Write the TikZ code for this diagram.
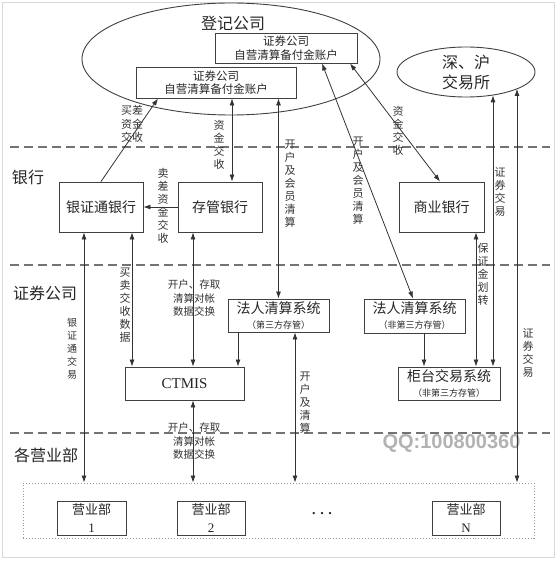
\documentclass[tikz,border=0pt]{standalone}
\usepackage{fontspec}
\setmainfont{Noto Sans CJK SC}
\newfontfamily\serifl{Liberation Serif}
\newfontfamily\qqfont{Liberation Sans}
\usetikzlibrary{arrows.meta,shapes.geometric}
\begin{document}
\begin{tikzpicture}[x=1pt,y=-1pt,
  frame/.style={draw=black!15, line width=0.8pt},
  sep/.style={draw=black!55, line width=1.6pt, dash pattern=on 9pt off 5pt},
  box/.style={draw=black!75, line width=0.9pt, fill=white, text=black!85, align=center, inner sep=0pt},
  oval/.style={ellipse, draw=black!75, line width=0.9pt, inner sep=0pt, text=black!85, align=center},
  big/.style={font=\fontsize{16}{20}\selectfont, text=black!85},
  accf/.style={font=\fontsize{11.5}{13.5}\selectfont},
  bf/.style={font=\fontsize{14}{17}\selectfont},
  sysf/.style={font=\fontsize{14}{15}\selectfont},
  yf/.style={font=\fontsize{13}{18}\selectfont},
  vl/.style={font=\fontsize{11}{13}\selectfont, align=center, inner sep=0pt, text=black!80},
  vls/.style={font=\fontsize{10}{13}\selectfont, align=center, inner sep=0pt, text=black!80},
  conn/.style={draw=black!80, line width=0.8pt},
  one/.style={conn, -{Latex[length=7pt,width=5pt]}},
  both/.style={conn, {Latex[length=7pt,width=5pt]}-{Latex[length=7pt,width=5pt]}}
]
\useasboundingbox (0,0) rectangle (559,561);
\coordinate (fa) at (2,2);
\coordinate (fb) at (554,557);
\draw[frame] (fa) rectangle (fb);

% separators
\coordinate (s1l) at (10,147); \coordinate (s1r) at (550,147);
\coordinate (s2l) at (10,265); \coordinate (s2r) at (550,265);
\coordinate (s3l) at (10,433); \coordinate (s3r) at (550,433);
\draw[sep] (s1l) -- (s1r);
\draw[sep] (s2l) -- (s2r);
\draw[sep] (s3l) -- (s3r);

% section labels
\node[big] (lbank) at (28,177) {银行};
\node[big] (lsec) at (45,293) {证券公司};
\node[big] (lyyb) at (46,455) {各营业部};

% ellipses
\node[oval, minimum width=298pt, minimum height=112pt] (djgs) at (231,59) {};
\node[big] (djgsl) at (233,23) {登记公司};
\node[oval, big, minimum width=138pt, minimum height=50pt] (sh) at (466,72) {深、沪\\交易所};

% account boxes
\node[box, accf, minimum width=142pt, minimum height=30pt] (acc1) at (286,48) {证券公司\\自营清算备付金账户};
\node[box, accf, minimum width=160pt, minimum height=31pt] (acc2) at (216,82.5) {证券公司\\自营清算备付金账户};

% banks
\node[box, bf, minimum width=84pt, minimum height=50pt] (yzt) at (101,207) {银证通银行};
\node[box, bf, minimum width=84pt, minimum height=50pt] (cg) at (220,207) {存管银行};
\node[box, bf, minimum width=85pt, minimum height=50pt] (sy) at (441.5,207) {商业银行};

% systems
\node[box, sysf, minimum width=101pt, minimum height=33pt] (fr1) at (278.5,315.5) {法人清算系统\\{\fontsize{9}{10}\selectfont （第三方存管）}};
\node[box, sysf, minimum width=101pt, minimum height=34pt] (fr2) at (414.5,316) {法人清算系统\\{\fontsize{9}{10}\selectfont （非第三方存管）}};
\node[box, sysf, minimum width=102pt, minimum height=33pt] (gt) at (449,383.5) {柜台交易系统\\{\fontsize{9}{10}\selectfont （非第三方存管）}};
\node[box, font=\serifl\fontsize{15}{17}\selectfont, minimum width=119pt, minimum height=33pt] (ct) at (184.5,383.5) {CTMIS};

% branches
\node[draw=black!40, dotted, line width=0.9pt, minimum width=511pt, minimum height=55pt, inner sep=0pt] (yyb) at (278.5,510.5) {};
\node[box, yf, minimum width=69pt, minimum height=34pt] (yb1) at (91.5,518) {营业部\\{\serifl 1}};
\node[box, yf, minimum width=68pt, minimum height=34pt] (yb2) at (211,518) {营业部\\{\serifl 2}};
\node[box, yf, minimum width=68pt, minimum height=34pt] (ybn) at (466,518) {营业部\\{\serifl N}};
\node[font=\serifl\bfseries\fontsize{14}{14}\selectfont, text=black!85] (dots) at (322,514) {.\,\,.\,\,.};

% watermark text
\node[font=\qqfont\bfseries\fontsize{20}{20}\selectfont, text=black!30] (qq) at (451.5,443) {QQ:100800360};

% helper x positions
\coordinate (x84) at (84,0);
\coordinate (x132) at (132,0);
\coordinate (x193) at (193,0);
\coordinate (x238) at (238,0);
\coordinate (x295) at (295,0);
\coordinate (x424) at (424,0);
\coordinate (x476) at (476,0);
\coordinate (x493) at (493,0);
\coordinate (x517) at (517,0);

% connectors
\draw[one] (yzt.north) -- ([xshift=-58pt]acc2.south);
\draw[both] ([xshift=12pt]cg.north) -- ([xshift=16pt]acc2.south);
\draw[both] (fr1.north) -- ([xshift=62.5pt]acc2.south);
\draw[both] ([xshift=36pt]acc1.south) -- ([xshift=-1.5pt]fr2.north);
\draw[both] ([xshift=64pt]acc1.south) -- ([xshift=-1.5pt]sy.north);
\draw[one] (cg.west) -- (yzt.east);
\draw[both] (x84 |- yzt.south) -- (x84 |- yyb.north);
\draw[both] (x132 |- yzt.south) -- (x132 |- ct.north);
\draw[both] (x193 |- cg.south) -- (x193 |- ct.north);
\draw[one] (x238 |- fr1.south) -- (x238 |- ct.north);
\draw[both] (x193 |- ct.south) -- (x193 |- yyb.north);
\draw[both] (x295 |- fr1.south) -- (x295 |- yyb.north);
\draw[one] (x424 |- fr2.south) -- (x424 |- gt.north);
\draw[both] (x476 |- gt.north) -- (x476 |- sy.south);
\draw[both] (x493 |- gt.north) -- (x493 |- sh.-40);
\draw[both] (x517 |- sh.-18) -- (x517 |- yyb.north);

% connector labels
\node[vl, font=\fontsize{11}{13.5}\selectfont] (t1) at (132,124) {买差\\资金\\交收};
\node[vl] (t2) at (219,145) {资\\金\\交\\收};
\node[vl] (t3) at (290,184) {开\\户\\及\\会\\员\\清\\算};
\node[vl] (t4) at (358,181) {开\\户\\及\\会\\员\\清\\算};
\node[vl] (t5) at (398,131) {资\\金\\交\\收};
\node[vl] (t6) at (163,206) {卖\\差\\资\\金\\交\\收};
\node[vls] (t7) at (72,349) {银\\证\\通\\交\\易};
\node[vl] (t8) at (125,305) {买\\卖\\交\\收\\数\\据};
\node[vls, font=\fontsize{10.5}{13.5}\selectfont] (t9) at (194,298) {开户、存取\\清算对帐\\数据交换};
\node[vls, font=\fontsize{10.5}{13.5}\selectfont] (t10) at (194,441) {开户、存取\\清算对帐\\数据交换};
\node[vl] (t11) at (305,403) {开\\户\\及\\清\\算};
\node[vl] (t12) at (483,274) {保\\证\\金\\划\\转};
\node[vl] (t13) at (500,192) {证\\券\\交\\易};
\node[vl] (t14) at (528,353) {证\\券\\交\\易};
\end{tikzpicture}
\end{document}
